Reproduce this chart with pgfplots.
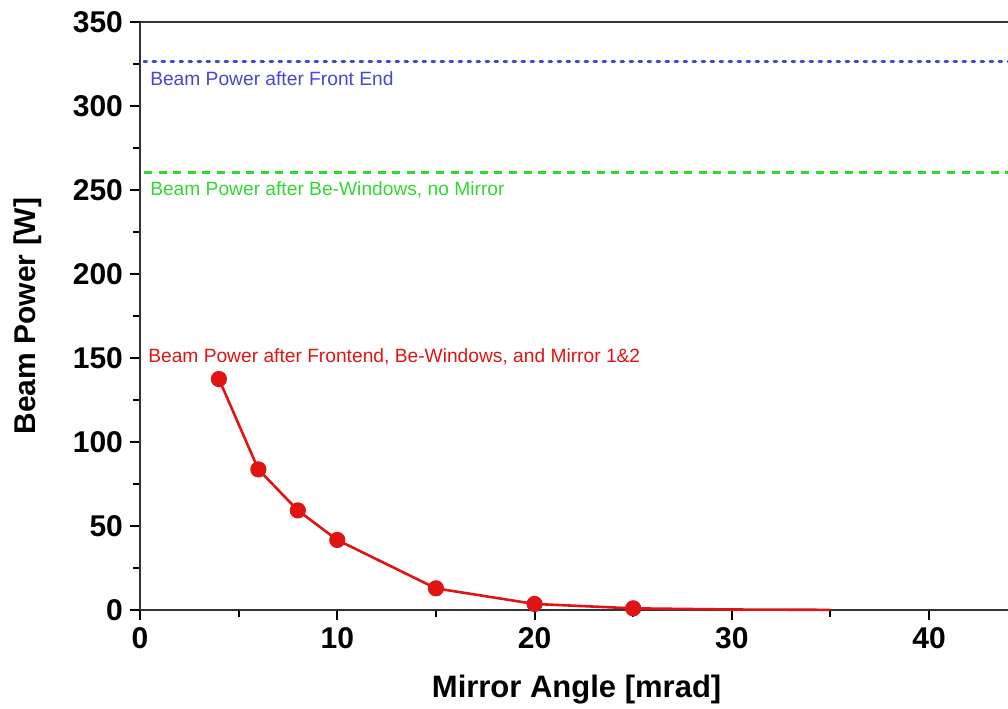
\documentclass[border=0pt]{standalone}
\usepackage{fontspec}
\setmainfont{Liberation Sans}
\usepackage{pgfplots}
\pgfplotsset{compat=1.18}
\usetikzlibrary{calc}
\definecolor{cblue}{RGB}{70,70,215}
\definecolor{cgreen}{RGB}{50,215,50}
\definecolor{cred}{RGB}{225,20,20}
\begin{document}
\begin{tikzpicture}
\begin{axis}[
  name=ax,
  scale only axis,
  width=434pt, height=294pt,
  xmin=0, xmax=44, ymin=0, ymax=350,
  axis x line=box, axis y line*=left,
  xtick={0,10,20,30,40}, ytick={0,50,...,350},
  minor xtick={5,15,25,35},
  minor ytick={25,75,...,325},
  xtick pos=bottom, ytick pos=left,
  tick align=outside,
  major tick length=5pt, minor tick length=3.5pt,
  every tick/.style={black, line width=1pt},
  axis line style={line width=1.2pt, black!80},
  /pgf/number format/assume math mode=true,
  tick label style={font=\fontsize{15}{17}\selectfont\bfseries},
  xlabel={Mirror Angle [mrad]},
  ylabel={Beam Power [W]},
  every axis x label/.style={at={(axis description cs:0.503,-0.136)}, anchor=center, font=\fontsize{15.5}{17}\selectfont\bfseries},
  every axis y label/.style={at={(axis description cs:-0.129,0.5)}, rotate=90, anchor=center, font=\fontsize{15}{17}\selectfont\bfseries},
  clip=false,
]
\addplot[cblue, line width=1.4pt, dash pattern=on 1.4pt off 3.1pt, line cap=round] coordinates {(0.2,326.5) (44,326.5)};
\addplot[cgreen, line width=1.6pt, dash pattern=on 4pt off 3.3pt] coordinates {(0.2,260.5) (44,260.5)};
\addplot[cred, line width=1.3pt, mark=*, mark size=3.4pt, mark indices={1,2,3,4,5,6,7},
  mark options={fill=cred, draw=cred}] coordinates {
  (4,137.5) (6,83.7) (8,59.3) (10,41.7) (15,12.9) (20,3.6) (25,1.0) (30,0.3) (35,0.1)};
\node[anchor=west, text=cblue, font=\fontsize{9.6}{11}\selectfont, inner sep=0pt] at (axis cs:0.5,316) {Beam Power after Front End};
\node[anchor=west, text=cgreen, font=\fontsize{9.6}{11}\selectfont, inner sep=0pt] at (axis cs:0.5,250) {Beam Power after Be-Windows, no Mirror};
\node[anchor=west, text=cred, font=\fontsize{9.6}{11}\selectfont, inner sep=0pt] at (axis cs:0.4,151) {Beam Power after Frontend, Be-Windows, and Mirror 1\&2};
\end{axis}
\pgfresetboundingbox
\useasboundingbox ($(ax.south west)+(-70pt,-49pt)$) rectangle ($(ax.north east)+(0pt,11pt)$);
\end{tikzpicture}
\end{document}
